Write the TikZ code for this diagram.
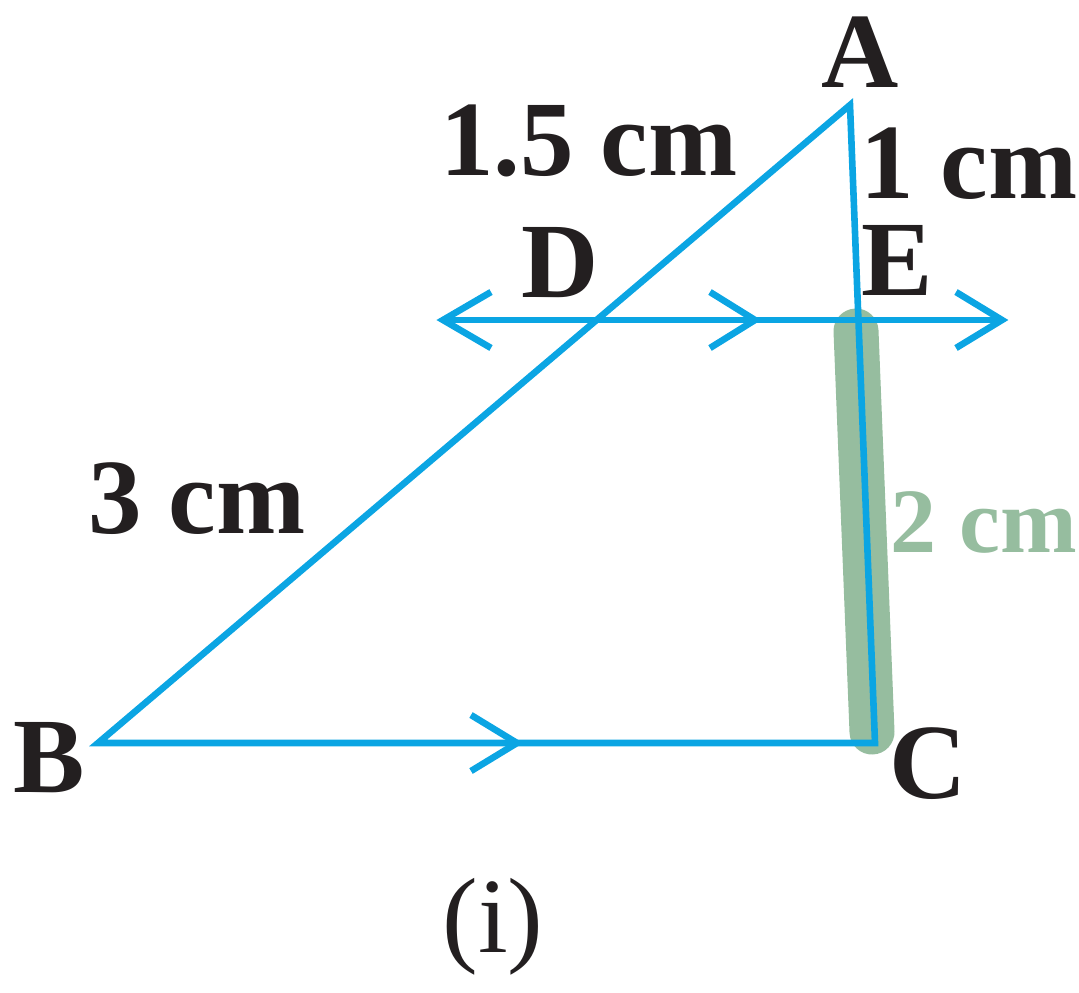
\documentclass[tikz,border=0pt]{standalone}
\usepackage{fontspec}
\setmainfont{Liberation Serif}
\usetikzlibrary{calc}
\definecolor{line_blue}{HTML}{0BA5E3}
\definecolor{soft_green}{HTML}{96BD9F}
\definecolor{ink}{HTML}{231F20}
\tikzset{
  lbl/.style={font=\fontsize{53.5}{60}\selectfont\bfseries,text=ink,inner sep=0,anchor=base},
  blueline/.style={line_blue,line width=3.3pt},
}

\begin{document}
\begin{tikzpicture}[x=0.5pt,y=-0.5pt]
              \useasboundingbox (0,0) rectangle (1079,992);
              \coordinate (A) at (850,105);
              \coordinate (B) at (98,743);
              \coordinate (C) at (875,743);
              \coordinate (D) at (597,320);
              \coordinate (E) at (858,320);
              \coordinate (L) at (443,320);
              \coordinate (R) at (1002,320);
              \coordinate (G1) at (856,331);
              \coordinate (G2) at (872,732);
              % highlighted side EC
              \draw[soft_green,line width=22.5pt,line cap=round] (G1) -- (G2);
              % triangle and parallel line
              \draw[blueline] (A) -- (B) -- (C) -- cycle;
              \draw[blueline] (L) -- (R);
              \draw[blueline] (L) ++(48,-28) -- ++(-48,28) -- ++(48,28);
              \draw[blueline] (R) ++(-46,-28) -- ++(46,28) -- ++(-46,28);
              \draw[blueline] (755,320) ++(-45,-28) -- ++(45,28) -- ++(-45,28);
              \draw[blueline] (517,743) ++(-46,-28) -- ++(46,28) -- ++(-46,28);
              % labels
              \node[lbl] (lA) at (860,87) {A};
              \node[lbl] (lB) at (49,792) {B};
              \node[lbl] (lC) at (928,798) {C};
              \node[lbl] (lD) at (560,297) {D};
              \node[lbl] (lE) at (897,295) {E};
              \node[lbl] (lAD) at (589,175) {1.5 cm};
              \node[lbl] (lAE) at (969,198) {1 cm};
              \node[lbl] (lDB) at (197,533) {3 cm};
              \node[lbl,text=soft_green,font=\fontsize{46}{52}\selectfont\bfseries] (lEC) at (984,552) {2 cm};
              \node[lbl,font=\fontsize{53.5}{60}\selectfont] (lfig) at (493,952) {(i)};
          \end{tikzpicture}
\end{document}
